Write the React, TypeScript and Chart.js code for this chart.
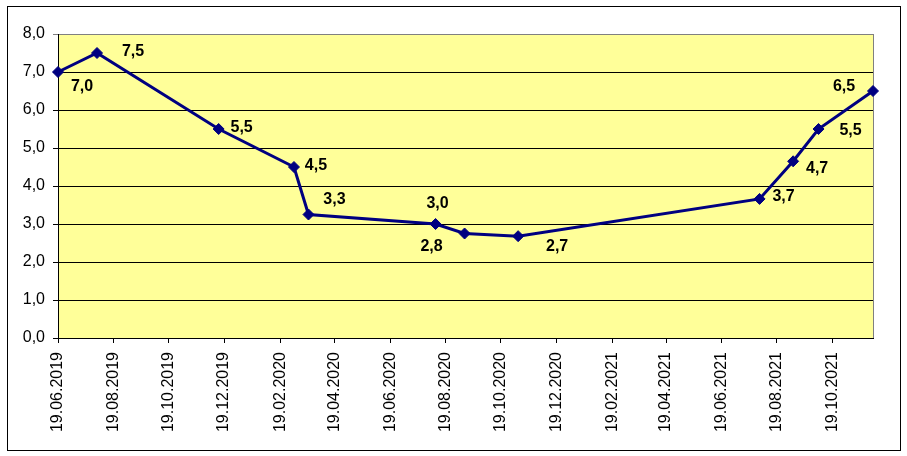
import React, { useEffect, useRef } from "react";
import { Chart, registerables } from "chart.js";

Chart.register(...registerables);

const pointDates = [
  "19.06.2019", "01.08.2019", "13.12.2019", "05.03.2020", "21.03.2020", "08.08.2020",
  "09.09.2020", "07.11.2020", "31.07.2021", "06.09.2021", "04.10.2021", "03.12.2021",
];
const rateValues = [7.0, 7.5, 5.5, 4.5, 3.25, 3.0, 2.75, 2.68, 3.66, 4.65, 5.5, 6.5];
const xTickLabels = [
  "19.06.2019", "19.08.2019", "19.10.2019", "19.12.2019", "19.02.2020", "19.04.2020",
  "19.06.2020", "19.08.2020", "19.10.2020", "19.12.2020", "19.02.2021", "19.04.2021",
  "19.06.2021", "19.08.2021", "19.10.2021",
];
const xMinLabel = "19.06.2019";
const xMaxLabel = "03.12.2021";
const yTickMax = 8;

// label offsets (px) relative to each point
const labelOffsets: [number, number][] = [
  [24, 15], [36, -1], [23, -1], [22, -1], [26, -15], [2, -20],
  [-33, 13], [39, 10], [24, -2], [24, 7], [32, 2], [-29, -4],
];

const toDay = (s: string) => {
  const [d, m, y] = s.split(".").map(Number);
  return Date.UTC(y, m - 1, d) / 86400000;
};
const fmt = (v: number) => v.toFixed(1).replace(".", ",");
const FONT = "'Liberation Sans', Arial, sans-serif";

export default function App() {
  const ref = useRef<HTMLCanvasElement>(null);
  useEffect(() => {
    const canvas = ref.current!;
    const bgPlugin = {
      id: "bg",
      beforeDraw(chart: any) {
        const { ctx, chartArea: a } = chart;
        ctx.save();
        ctx.fillStyle = "#ffffff";
        ctx.fillRect(0, 0, chart.width, chart.height);
        ctx.fillStyle = "#FFFF99";
        ctx.fillRect(a.left, a.top, a.right - a.left, a.bottom - a.top);
        ctx.strokeStyle = "#000";
        ctx.lineWidth = 1;
        ctx.strokeRect(7.5, 6.5, 893, 444);
        ctx.restore();
      },
      beforeDatasetsDraw(chart: any) {
        const { ctx, chartArea: a } = chart;
        ctx.save();
        ctx.strokeStyle = "#808080";
        ctx.lineWidth = 1;
        ctx.beginPath();
        ctx.moveTo(Math.round(a.right) + 0.5, a.top);
        ctx.lineTo(Math.round(a.right) + 0.5, a.bottom);
        ctx.stroke();
        ctx.restore();
      },
      afterDatasetsDraw(chart: any) {
        const { ctx } = chart;
        const meta = chart.getDatasetMeta(0);
        ctx.save();
        ctx.font = `bold 16px ${FONT}`;
        ctx.fillStyle = "#000";
        ctx.textAlign = "center";
        ctx.textBaseline = "middle";
        meta.data.forEach((p: any, i: number) => {
          const [dx, dy] = labelOffsets[i];
          ctx.fillText(fmt(rateValues[i]), p.x + dx, p.y + dy);
        });
        ctx.restore();
      },
    };

    const chart = new Chart(canvas, {
      type: "line",
      data: {
        datasets: [
          {
            data: pointDates.map((d, i) => ({ x: toDay(d), y: rateValues[i] })),
            borderColor: "#000080",
            backgroundColor: "#000080",
            borderWidth: 3,
            pointStyle: "rectRot",
            pointRadius: 5.5,
            pointBorderWidth: 1,
            pointBackgroundColor: "#000080",
            pointBorderColor: "#000080",
            tension: 0,
            clip: false as any,
          },
        ],
      },
      options: {
        animation: false,
        responsive: false,
        events: [],
        layout: { padding: { top: 34, right: 34, left: 0, bottom: 0 } },
        plugins: { legend: { display: false }, tooltip: { enabled: false } },
        scales: {
          x: {
            type: "linear",
            min: toDay(xMinLabel),
            max: toDay(xMaxLabel),
            afterBuildTicks: (scale: any) => {
              scale.ticks = xTickLabels.map((t) => ({ value: toDay(t) }));
            },
            afterFit: (scale: any) => {
              scale.height = 118;
            },
            ticks: {
              autoSkip: false,
              maxRotation: 90,
              minRotation: 90,
              padding: 9,
              color: "#000",
              font: { family: FONT, size: 16 },
              callback: (_v: any, i: number) => xTickLabels[i],
            },
            grid: {
              drawOnChartArea: false,
              drawTicks: true,
              tickLength: 5,
              color: "#000",
            },
            border: { color: "#000", width: 1 },
          },
          y: {
            min: 0,
            max: yTickMax,
            afterFit: (scale: any) => {
              scale.width = 58;
            },
            ticks: {
              stepSize: 1,
              padding: 8,
              color: "#000",
              font: { family: FONT, size: 16 },
              callback: (v: any) => fmt(Number(v)),
            },
            grid: {
              color: (c: any) => (c.tick && c.tick.value === yTickMax ? "#808080" : "#000"),
              tickLength: 5,
              lineWidth: 1,
            },
            border: { color: "#000", width: 1 },
          },
        },
      },
      plugins: [bgPlugin],
    } as any);
    return () => chart.destroy();
  }, []);

  return (
    <div style={{ position: "fixed", left: 0, top: 0, width: 907, height: 456 }}>
      <canvas ref={ref} width={907} height={456} />
    </div>
  );
}
